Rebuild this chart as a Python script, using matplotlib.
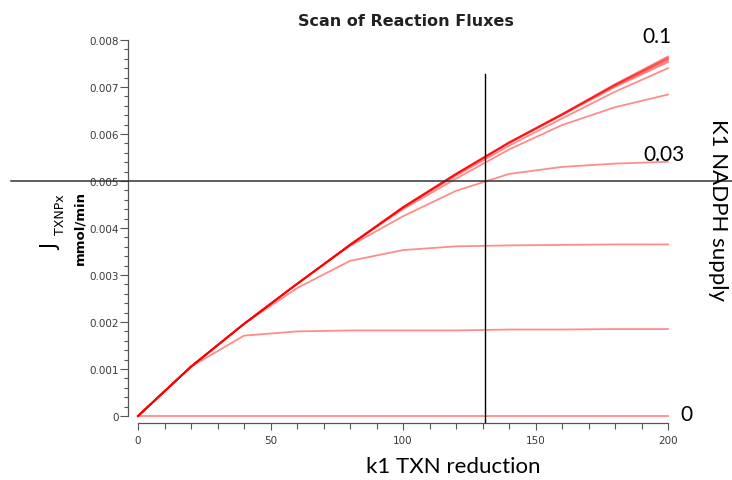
import matplotlib
matplotlib.use('Agg')
import matplotlib.pyplot as plt
from matplotlib.ticker import MultipleLocator, FuncFormatter

# k1 TXN reduction scan points
k1_txn = [0, 20, 40, 60, 80, 100, 120, 140, 160, 180, 200]

# K1 NADPH supply values, one curve each
nadph_supply = [0, 0.01, 0.02, 0.03, 0.04, 0.05, 0.06, 0.07, 0.08, 0.09, 0.1]

# J_TXNPx (mmol/min)
flux = [
    [0, 0, 0, 0, 0, 0, 0, 0, 0, 0, 0],
    [0, 0.00105, 0.00171, 0.00180, 0.00182, 0.00182, 0.00182, 0.00184, 0.00184, 0.00185, 0.00185],
    [0, 0.00105, 0.00196, 0.00272, 0.00330, 0.00353, 0.00361, 0.00363, 0.00364, 0.00365, 0.00365],
    [0, 0.00105, 0.00196, 0.00281, 0.00362, 0.00425, 0.00479, 0.00515, 0.00530, 0.00537, 0.00541],
    [0, 0.00105, 0.00196, 0.00281, 0.00364, 0.00440, 0.00505, 0.00567, 0.00619, 0.00657, 0.00684],
    [0, 0.00105, 0.00196, 0.00281, 0.00364, 0.00443, 0.00511, 0.00575, 0.00633, 0.00690, 0.00740],
    [0, 0.00105, 0.00196, 0.00281, 0.00364, 0.00444, 0.00514, 0.00580, 0.00640, 0.00700, 0.00753],
    [0, 0.00105, 0.00196, 0.00281, 0.00364, 0.00444, 0.00515, 0.00581, 0.00641, 0.00703, 0.00757],
    [0, 0.00105, 0.00196, 0.00281, 0.00364, 0.00444, 0.00515, 0.00582, 0.00642, 0.00704, 0.00760],
    [0, 0.00105, 0.00196, 0.00281, 0.00364, 0.00444, 0.00515, 0.00582, 0.00642, 0.00705, 0.00762],
    [0, 0.00105, 0.00196, 0.00281, 0.00364, 0.00444, 0.00515, 0.00582, 0.00642, 0.00706, 0.00765],
]

# labelled curves: (text, x, y) in data units
curve_labels = [('0.1', 196, 0.00809), ('0.03', 198.5, 0.00557), ('0', 207, 0.00004)]

W, H = 732, 481
fig = plt.figure(figsize=(W / 100, H / 100), dpi=100)
ax = fig.add_axes([138 / W, 1 - 417 / H, 530 / W, 376 / H])

for vals in flux:
    ax.plot(k1_txn, vals, color='red', alpha=0.45, lw=1.3, solid_joinstyle='round', clip_on=False)

ax.set_xlim(0, 200)
ax.set_ylim(0, 0.008)

for side in ['top', 'right']:
    ax.spines[side].set_visible(False)
ax.spines['left'].set_position(('outward', 7))
ax.spines['bottom'].set_position(('outward', 5))
ax.spines['left'].set_bounds(0, 0.008)
ax.spines['bottom'].set_bounds(0, 200)
for side in ['left', 'bottom']:
    ax.spines[side].set_color('#555555')
    ax.spines[side].set_linewidth(0.9)

ax.xaxis.set_major_locator(MultipleLocator(50))
ax.xaxis.set_minor_locator(MultipleLocator(10))
ax.yaxis.set_major_locator(MultipleLocator(0.001))
ax.yaxis.set_minor_locator(MultipleLocator(0.0002))
ax.yaxis.set_major_formatter(FuncFormatter(lambda v, p: '0' if abs(v) < 1e-9 else f'{v:.3f}'))
ax.tick_params(axis='both', which='both', colors='#555555', labelcolor='#3a3a3a', labelsize=7.5, width=0.8)
ax.tick_params(axis='y', which='major', length=6, pad=1)
ax.tick_params(axis='y', which='minor', length=3)
ax.tick_params(axis='x', which='major', length=5, pad=4)
ax.tick_params(axis='x', which='minor', length=4)

# crosshair lines
ax.axhline(0.005, xmin=-0.24, xmax=1.2, color='#333333', lw=1.1, clip_on=False, zorder=5)
ax.axvline(131, ymin=-0.016, ymax=0.91, color='black', lw=1.0, clip_on=False, zorder=5)

for txt, x, y in curve_labels:
    ax.text(x, y, txt, ha='center', va='center', fontsize=15, family='Lato', clip_on=False)

fig.text(406 / W, 1 - 21 / H, 'Scan of Reaction Fluxes', ha='center', va='center',
         fontsize=11.5, fontweight='bold', color='#222222')
fig.text(453 / W, 1 - 467 / H, 'k1 TXN reduction', ha='center', va='center',
         fontsize=16, family='Lato')
fig.text(718 / W, 1 - 210 / H, 'K1 NADPH supply', ha='center', va='center',
         fontsize=16, family='Lato', rotation=-90)

# y label: J with subscript, unit below
fig.text(51 / W, 1 - 247 / H, 'J', ha='center', va='center', fontsize=15, rotation=90)
fig.text(61 / W, 1 - 215 / H, 'TXNPx', ha='center', va='center', fontsize=9, rotation=90)
fig.text(80 / W, 1 - 228 / H, 'mmol/min', ha='center', va='center', fontsize=9.5,
         fontweight='bold', rotation=90)

fig.savefig('out.png', dpi=100)
